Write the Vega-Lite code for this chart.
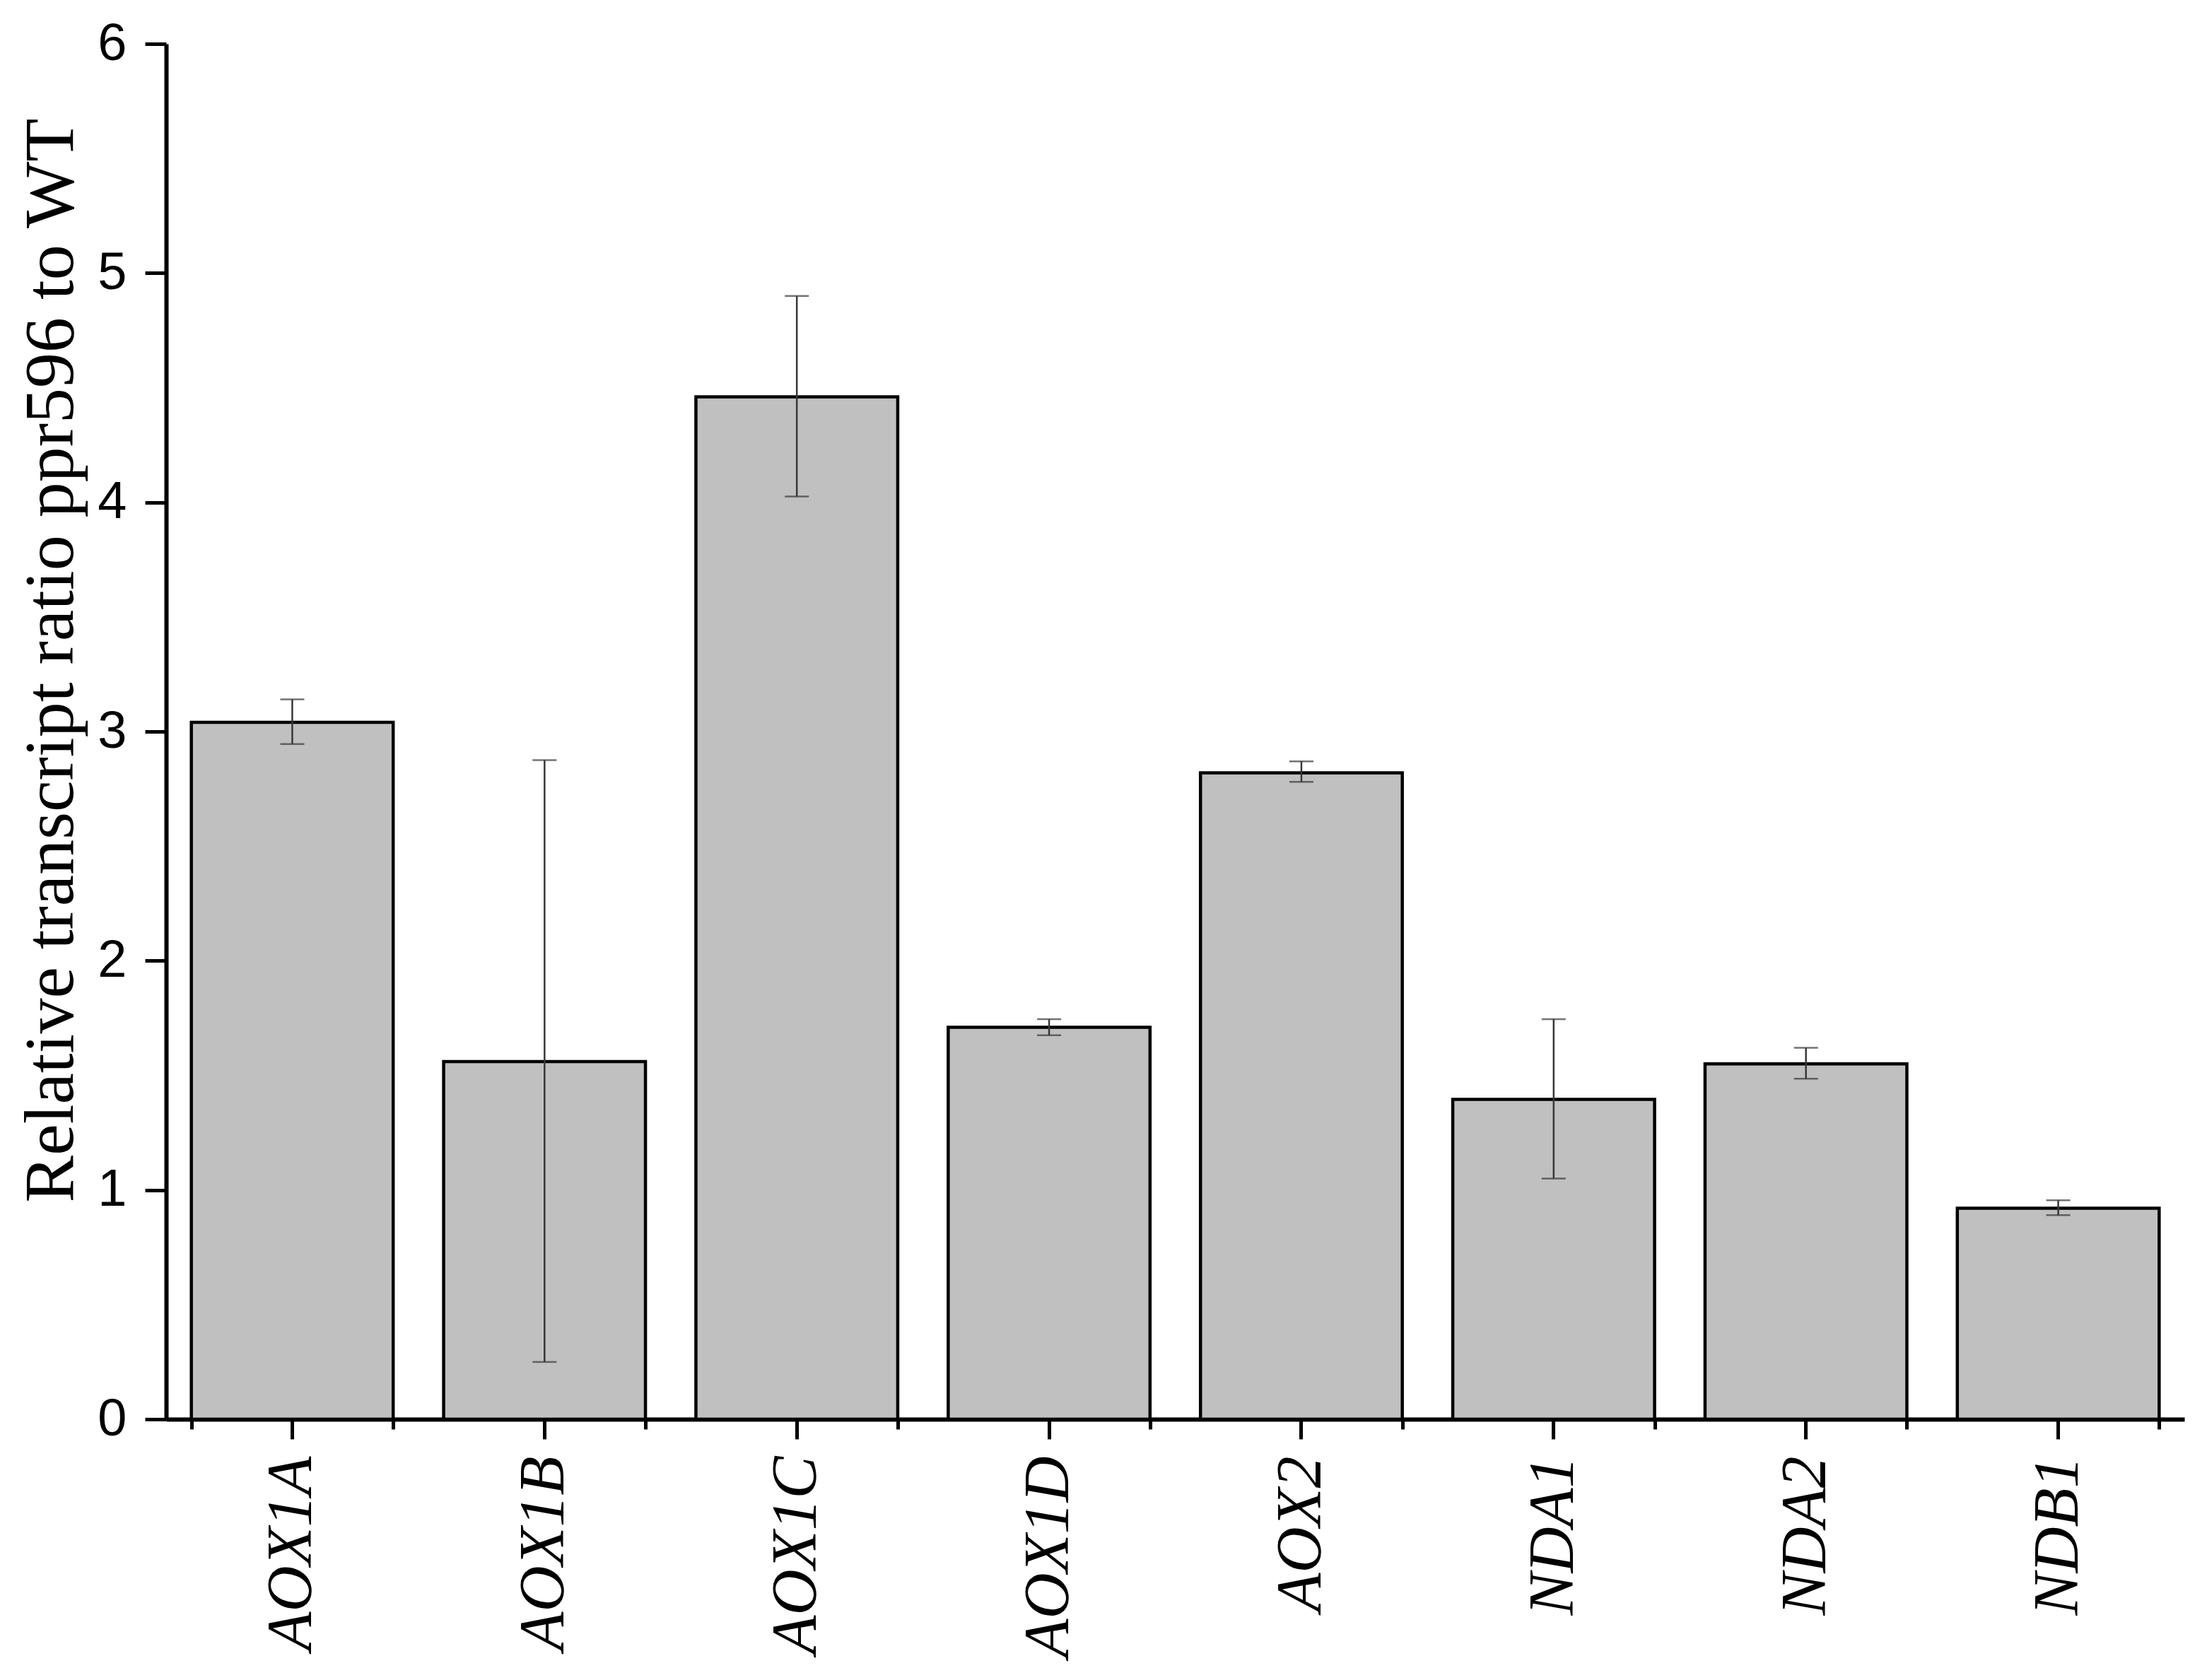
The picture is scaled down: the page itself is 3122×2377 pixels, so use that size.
{
  "$schema": "https://vega.github.io/schema/vega-lite/v6.json",
  "autosize": "none",
  "padding": {"left": 235, "top": 62, "right": 32, "bottom": 369},
  "width": 2855,
  "height": 1946,
  "background": "white",
  "config": {"view": {"stroke": null}},
  "data": {"values": [
    {"gene": "AOX1A", "ratio": 3.04, "lo": 2.945, "hi": 3.14},
    {"gene": "AOX1B", "ratio": 1.56, "lo": 0.25, "hi": 2.875},
    {"gene": "AOX1C", "ratio": 4.46, "lo": 4.025, "hi": 4.9},
    {"gene": "AOX1D", "ratio": 1.71, "lo": 1.675, "hi": 1.745},
    {"gene": "AOX2", "ratio": 2.82, "lo": 2.78, "hi": 2.87},
    {"gene": "NDA1", "ratio": 1.395, "lo": 1.05, "hi": 1.745},
    {"gene": "NDA2", "ratio": 1.55, "lo": 1.485, "hi": 1.62},
    {"gene": "NDB1", "ratio": 0.92, "lo": 0.89, "hi": 0.955}
  ]},
  "resolve": {"axis": {"x": "independent"}},
  "layer": [
    {
      "mark": {"type": "bar", "fill": "#c0c0c0", "stroke": "#000000", "strokeWidth": 4.5},
      "encoding": {
        "x": {"field": "gene", "type": "nominal", "sort": null,
          "scale": {"paddingInner": 0.2, "paddingOuter": 0.1},
          "axis": {"title": null, "orient": "bottom", "labelAngle": -90, "labelFont": "Liberation Serif", "labelFontStyle": "italic",
            "labelFontSize": 90, "labelColor": "#000", "labelPadding": 24, "labelLimit": 0, "tickSize": 28, "tickWidth": 5, "tickColor": "#000",
            "domainColor": "#000", "domainWidth": 6, "labelAlign": "right", "labelBaseline": "middle"}},
        "y": {"field": "ratio", "type": "quantitative",
          "scale": {"domain": [0, 6], "nice": false},
          "axis": {"title": "Relative transcript ratio ppr596 to WT", "titleFont": "Liberation Serif", "titleFontWeight": "normal",
            "titleFontSize": 100, "titleColor": "#000", "titleX": -163, "titleY": 872, "titleBaseline": "middle", "titleAlign": "center", "titleAngle": -90,
            "values": [0, 0.5, 1, 1.5, 2, 2.5, 3, 3.5, 4, 4.5, 5, 5.5, 6],
            "format": "d",
            "labelExpr": "datum.value % 1 === 0 ? datum.label : ''",
            "labelFont": "Liberation Sans", "labelFontSize": 74, "labelColor": "#000", "labelPadding": 26,
            "tickSize": {"condition": {"test": "datum.value % 1 === 0", "value": 30}, "value": 15},
            "tickWidth": 5, "tickColor": "#000", "domainColor": "#000", "domainWidth": 6, "grid": false}}
      }
    },
    {
      "mark": {"type": "errorbar", "color": "#383838", "ticks": {"size": 34, "thickness": 2.5}, "rule": {"strokeWidth": 2.5}},
      "encoding": {
        "x": {"field": "gene", "type": "nominal", "sort": null,
          "axis": {"title": null, "orient": "bottom", "labels": false, "tickBand": "extent", "tickSize": 14, "tickWidth": 5,
            "tickColor": "#000", "domain": false}},
        "y": {"field": "lo", "type": "quantitative", "title": "Relative transcript ratio ppr596 to WT"},
        "y2": {"field": "hi"}
      }
    }
  ]
}
